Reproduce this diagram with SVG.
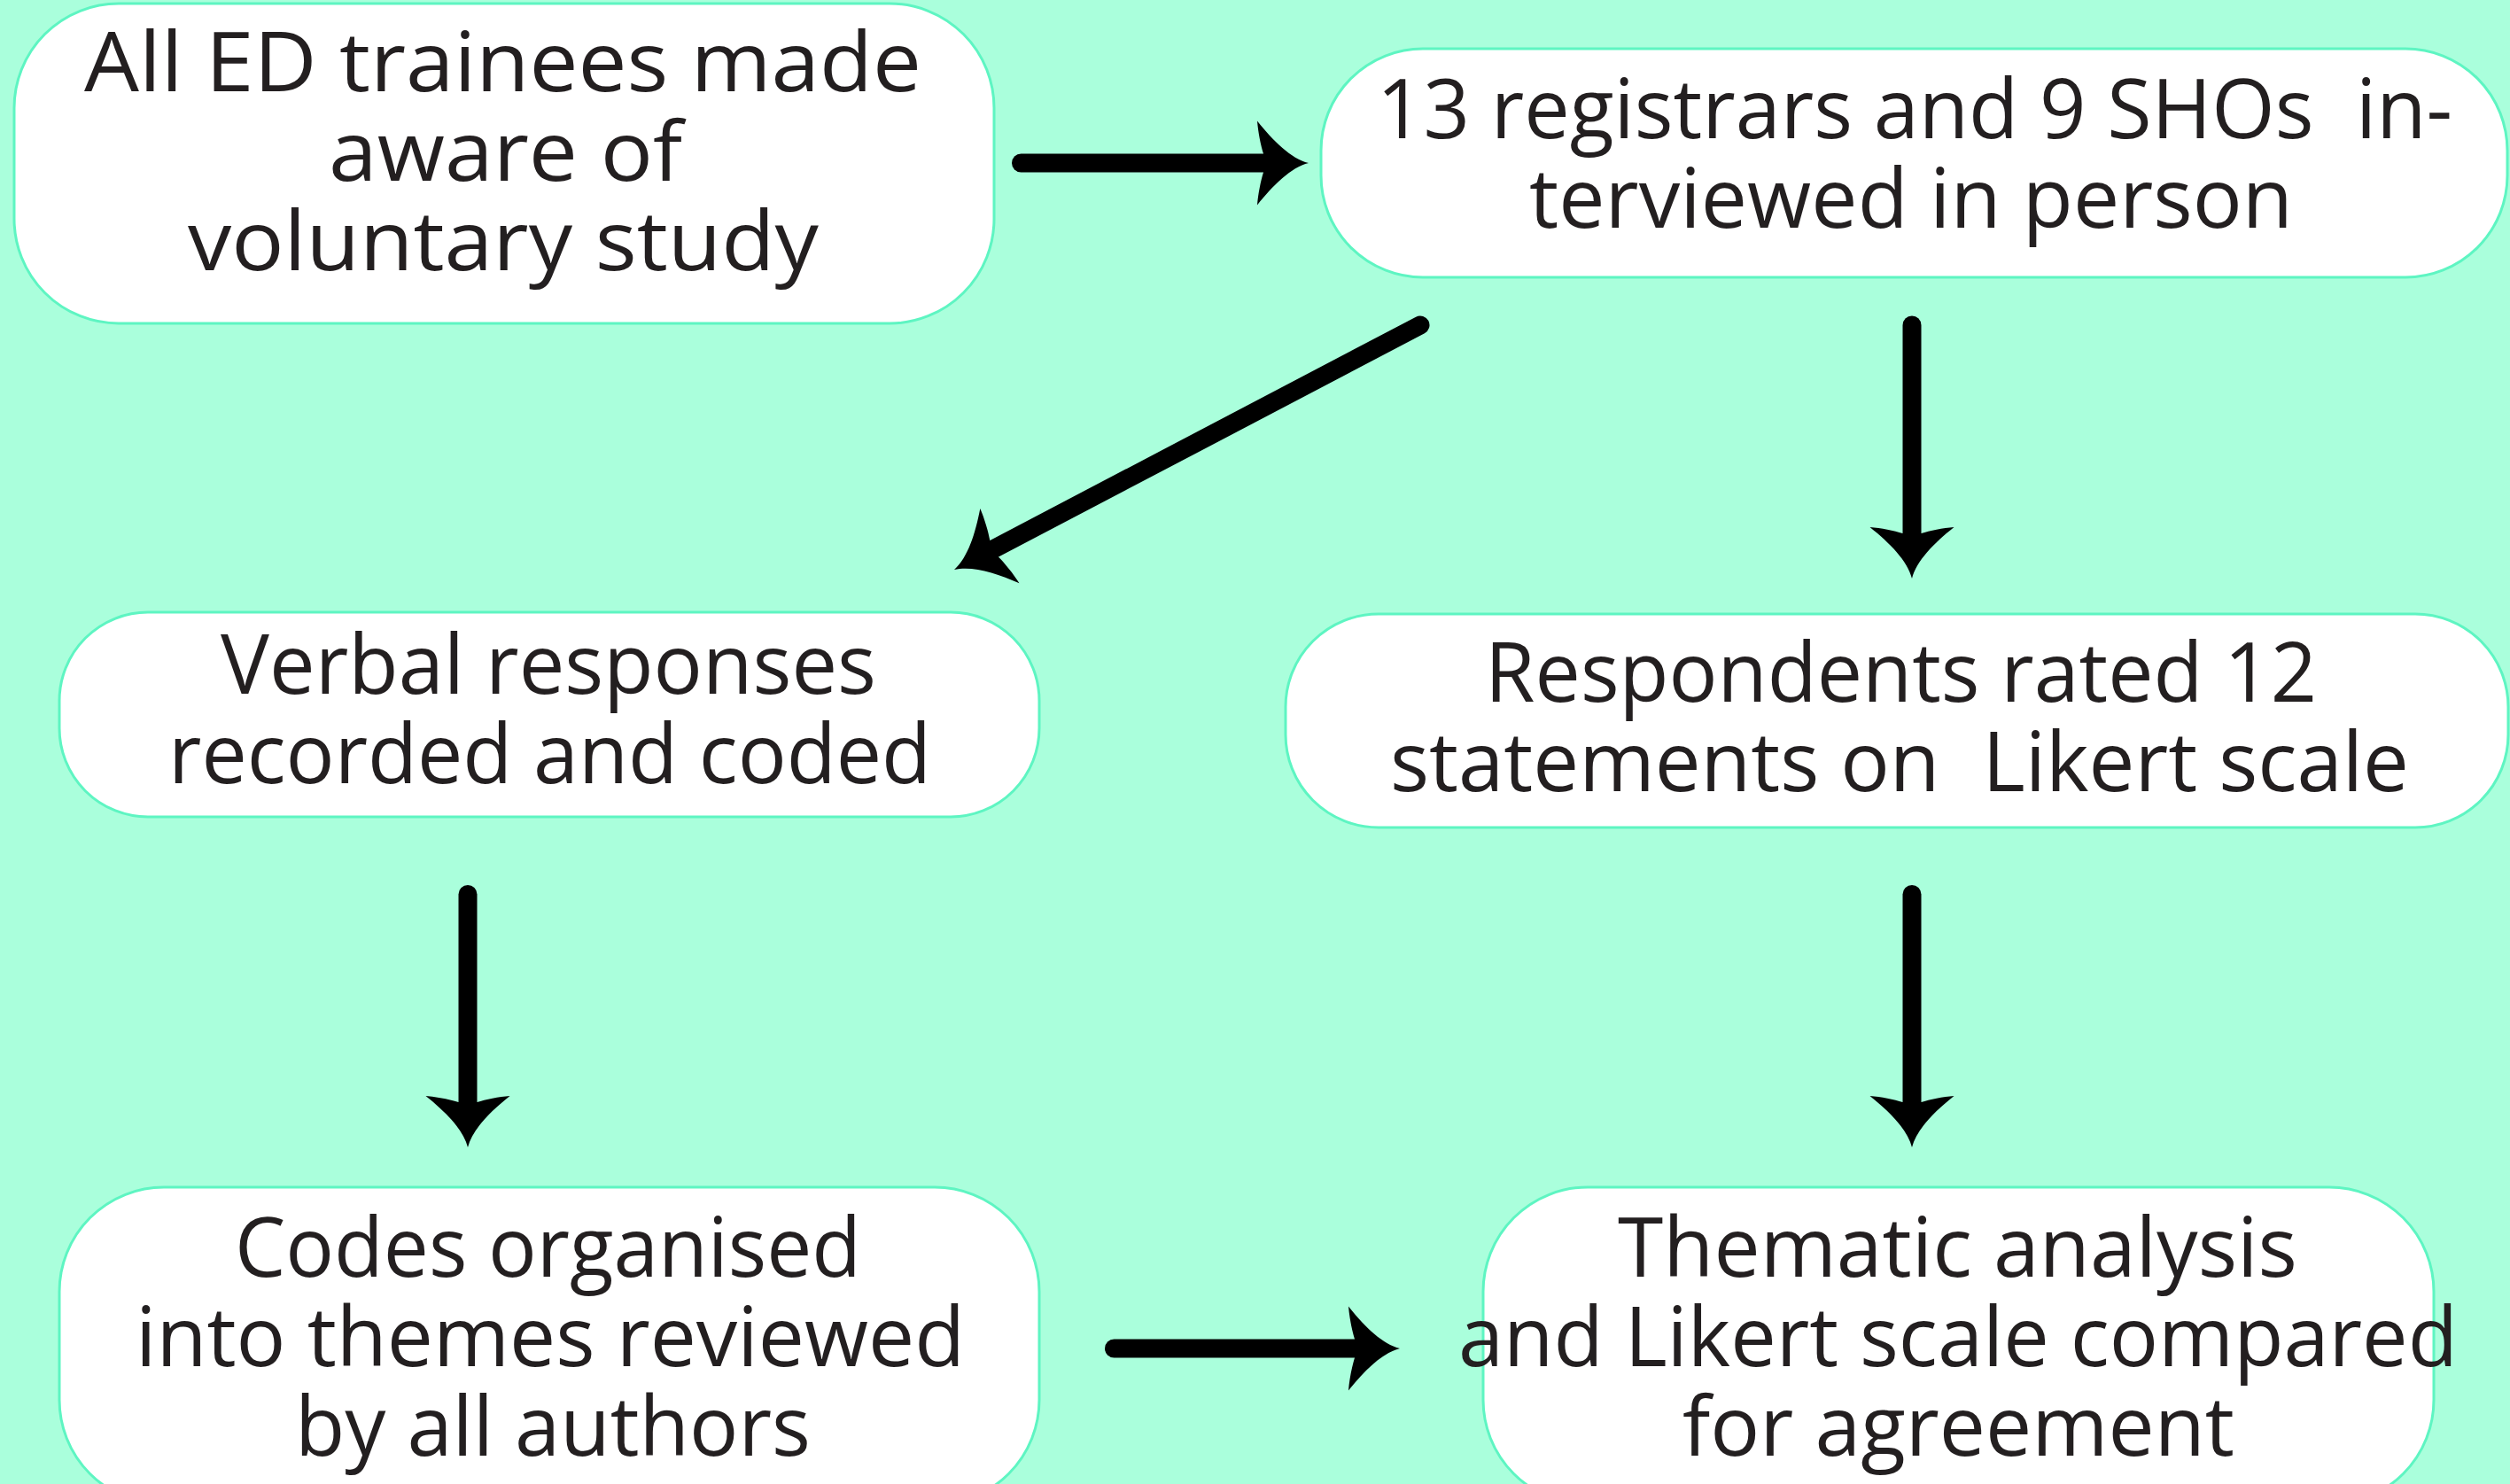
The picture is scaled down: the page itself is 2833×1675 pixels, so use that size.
<svg xmlns="http://www.w3.org/2000/svg" width="2833" height="1675" viewBox="0 0 2833 1675">
<style>
.box{fill:#ffffff;stroke:#5ef5c2;stroke-width:3}
.t{font-family:"Open Sans","Noto Sans","Liberation Sans",sans-serif;font-size:94px;fill:#231f20;text-anchor:middle;white-space:pre}
.c{fill:none;stroke:#000000;stroke-width:21;stroke-linecap:round}
</style>
<defs>
<marker id="ah" markerUnits="userSpaceOnUse" viewBox="-20 -60 80 120" markerWidth="80" markerHeight="120" refX="0" refY="0" orient="auto" overflow="visible">
<path d="M50,0 C30,-5 10,-25 -8,-47.5 C-7,-35 -4,-20 -1,-10.5 L-1,10.5 C-4,20 -7,35 -8,47.5 C10,25 30,5 50,0 Z" fill="#000000"/>
</marker>
</defs>
<rect x="0" y="0" width="2833" height="1675" fill="#aaffdc"/>
<g id="connectors">
<line class="c" x1="1152.5" y1="184" x2="1427" y2="184" marker-end="url(#ah)"/>
<line class="c" x1="1603" y1="367" x2="1121.3" y2="619.8" marker-end="url(#ah)"/>
<line class="c" x1="2158" y1="367" x2="2158" y2="603" marker-end="url(#ah)"/>
<line class="c" x1="528" y1="1009.5" x2="528" y2="1245" marker-end="url(#ah)"/>
<line class="c" x1="2158" y1="1009.5" x2="2158" y2="1245" marker-end="url(#ah)"/>
<line class="c" x1="1257.5" y1="1522" x2="1530" y2="1522" marker-end="url(#ah)"/>
</g>
<g id="node1">
<rect class="box" x="16" y="4" width="1106" height="361" rx="118" ry="118"/>
<text class="t" x="567.5" y="103" textLength="945" lengthAdjust="spacingAndGlyphs">All ED trainees made</text>
<text class="t" x="570.5" y="204" textLength="399" lengthAdjust="spacingAndGlyphs">aware of</text>
<text class="t" x="568" y="305" textLength="712" lengthAdjust="spacingAndGlyphs">voluntary study</text>
</g>
<g id="node2">
<rect class="box" x="1491" y="55" width="1339" height="258" rx="115" ry="115"/>
<text class="t" x="2161" y="156" textLength="1214" lengthAdjust="spacingAndGlyphs">13 registrars and 9 SHOs  in-</text>
<text class="t" x="2157" y="257" textLength="862" lengthAdjust="spacingAndGlyphs">terviewed in person</text>
</g>
<g id="node3">
<rect class="box" x="67" y="691" width="1106" height="231" rx="100" ry="100"/>
<text class="t" x="619" y="783" textLength="740" lengthAdjust="spacingAndGlyphs">Verbal responses</text>
<text class="t" x="620.5" y="884" textLength="861" lengthAdjust="spacingAndGlyphs">recorded and coded</text>
</g>
<g id="node4">
<rect class="box" x="1451" y="693" width="1380" height="241" rx="105" ry="105"/>
<text class="t" x="2145.5" y="792" textLength="939" lengthAdjust="spacingAndGlyphs">Respondents rated 12</text>
<text class="t" x="2144" y="893" textLength="1150" lengthAdjust="spacingAndGlyphs">statements on  Likert scale</text>
</g>
<g id="node5">
<rect class="box" x="67" y="1340" width="1106" height="358" rx="118" ry="118"/>
<text class="t" x="618.5" y="1441" textLength="707" lengthAdjust="spacingAndGlyphs">Codes organised</text>
<text class="t" x="621" y="1542" textLength="936" lengthAdjust="spacingAndGlyphs">into themes reviewed</text>
<text class="t" x="624" y="1643" textLength="582" lengthAdjust="spacingAndGlyphs">by all authors</text>
</g>
<g id="node6">
<rect class="box" x="1674" y="1340" width="1073" height="358" rx="118" ry="118"/>
<text class="t" x="2209.5" y="1441" textLength="767" lengthAdjust="spacingAndGlyphs">Thematic analysis</text>
<text class="t" x="2210" y="1542" textLength="1128" lengthAdjust="spacingAndGlyphs">and Likert scale compared</text>
<text class="t" x="2210.5" y="1643" textLength="623" lengthAdjust="spacingAndGlyphs">for agreement</text>
</g>
</svg>
